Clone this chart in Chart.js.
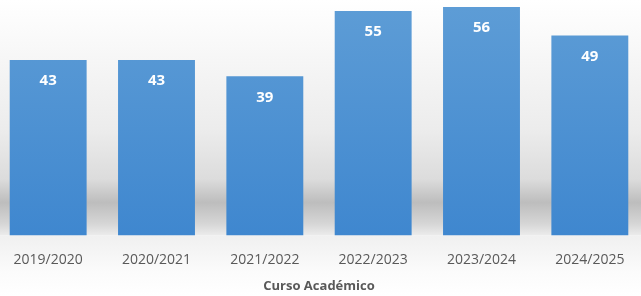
<!DOCTYPE html>
<html lang="es">
<head>
    <meta charset="UTF-8">
    <title>Curso Académico</title>
    <script src="https://cdn.jsdelivr.net/npm/chart.js"></script>
    <style>
        html, body { margin: 0; padding: 0; background: #fff; overflow: hidden; }
        #wrap { position: absolute; left: -6px; top: 0; width: 650px; height: 296px; }
    </style>
</head>
<body>
    <div id="wrap"><canvas id="cursoChart"></canvas></div>

    <script>
        // data
        const cursos = ['2019/2020', '2020/2021', '2021/2022', '2022/2023', '2023/2024', '2024/2025'];
        const valores = [43, 43, 39, 55, 56, 49];
        const tituloX = 'Curso Académico';

        // grey backdrop behind the bars (the soft "floor" shadow)
        const backdrop = {
            id: 'backdrop',
            beforeDraw(chart) {
                const { ctx, chartArea: a } = chart;
                ctx.save();
                let g = ctx.createLinearGradient(0, a.top, 0, a.bottom);
                g.addColorStop(0, '#ffffff');
                g.addColorStop(0.55, '#ececec');
                g.addColorStop(0.76, '#dcdcdc');
                g.addColorStop(0.86, '#bdbdbd');
                g.addColorStop(0.95, '#d6d6d6');
                g.addColorStop(1, '#ececec');
                ctx.fillStyle = g;
                ctx.fillRect(a.left, a.top, a.right - a.left, a.bottom - a.top);
                g = ctx.createLinearGradient(0, a.bottom, 0, chart.height);
                g.addColorStop(0, '#f0f0f0');
                g.addColorStop(0.6, '#fbfbfb');
                g.addColorStop(1, '#ffffff');
                ctx.fillStyle = g;
                ctx.fillRect(a.left, a.bottom, a.right - a.left, chart.height - a.bottom);
                ctx.restore();
            }
        };

        // white values inside the top of each bar
        const barLabels = {
            id: 'barLabels',
            afterDatasetsDraw(chart) {
                const { ctx } = chart;
                ctx.save();
                ctx.fillStyle = '#ffffff';
                ctx.font = 'bold 15px "Open Sans"';
                ctx.textAlign = 'center';
                ctx.textBaseline = 'middle';
                chart.getDatasetMeta(0).data.forEach((bar, i) => {
                    ctx.fillText(valores[i], bar.x, bar.y + 21);
                });
                ctx.restore();
            }
        };

        const ctx = document.getElementById('cursoChart').getContext('2d');
        new Chart(ctx, {
            type: 'bar',
            data: {
                labels: cursos,
                datasets: [{
                    data: valores,
                    backgroundColor: (c) => {
                        const a = c.chart.chartArea;
                        if (!a) return '#5b9bd5';
                        const g = c.chart.ctx.createLinearGradient(0, a.top, 0, a.bottom);
                        g.addColorStop(0, '#5e9dd6');
                        g.addColorStop(1, '#3f87cf');
                        return g;
                    },
                    borderWidth: 0,
                    barPercentage: 0.71,
                    categoryPercentage: 1
                }]
            },
            options: {
                responsive: true,
                maintainAspectRatio: false,
                animation: false,
                layout: { padding: { top: 0, bottom: 2, left: 0, right: 0 } },
                plugins: {
                    legend: { display: false },
                    tooltip: { enabled: false }
                },
                scales: {
                    x: {
                        grid: { display: false },
                        border: { display: false },
                        ticks: {
                            color: '#595959',
                            font: { family: '"Open Sans"', size: 14 },
                            padding: 8,
                            maxRotation: 0
                        },
                        title: {
                            display: true,
                            text: tituloX,
                            color: '#595959',
                            font: { family: '"Open Sans"', size: 13, weight: 'bold' },
                            padding: { top: 2, bottom: 0 }
                        }
                    },
                    y: {
                        display: false,
                        min: 0,
                        max: 57.7
                    }
                }
            },
            plugins: [backdrop, barLabels]
        });
    </script>
</body>
</html>
